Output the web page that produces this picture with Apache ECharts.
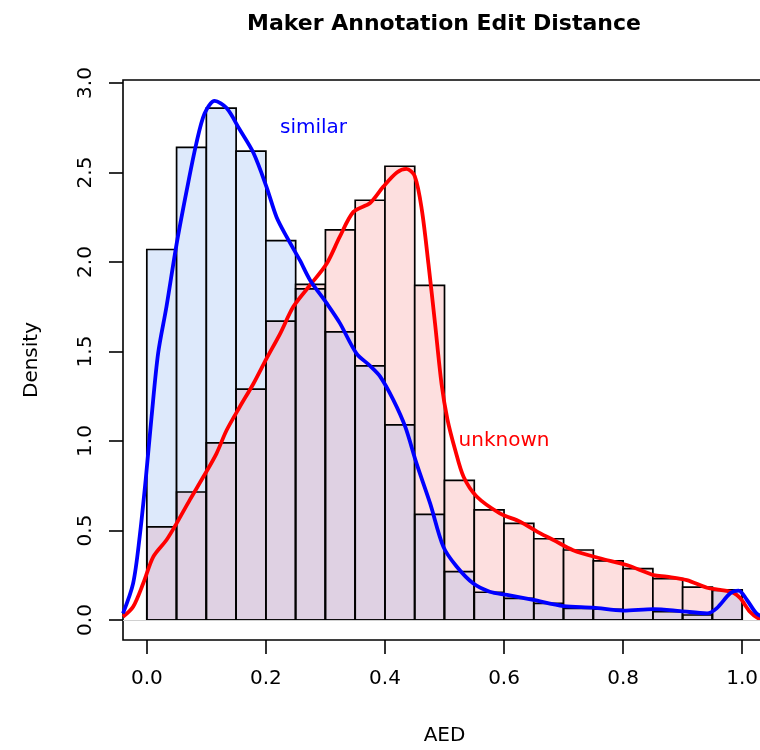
<!DOCTYPE html>
<html>
<head>
<meta charset="utf-8">
<script src="https://cdn.jsdelivr.net/npm/echarts@6/dist/echarts.min.js"></script>
<style>
  html, body { margin: 0; padding: 0; background: #fff; }
  #chart { width: 760px; height: 750px; }
</style>
</head>
<body>
<div id="chart"></div>
<script>
// histogram bins (AED)
const binEdges = [0, 0.05, 0.1, 0.15, 0.2, 0.25, 0.3, 0.35, 0.4, 0.45, 0.5,
  0.55, 0.6, 0.65, 0.7, 0.75, 0.8, 0.85, 0.9, 0.95, 1.0];
const similarHist = [2.07, 2.64, 2.86, 2.62, 2.12, 1.85, 1.61, 1.42, 1.09, 0.59,
  0.27, 0.155, 0.121, 0.093, 0.065, 0.06, 0.056, 0.047, 0.028, 0.168];
const unknownHist = [0.52, 0.715, 0.99, 1.29, 1.67, 1.875, 2.18, 2.345, 2.535, 1.87,
  0.78, 0.615, 0.54, 0.454, 0.391, 0.33, 0.287, 0.231, 0.184, 0.165];

// density curves
const similarX = [-0.04, -0.023, -0.012, -0.002, 0.008, 0.019, 0.033, 0.05, 0.067, 0.083,
  0.097, 0.114, 0.134, 0.156, 0.179, 0.201, 0.218, 0.235, 0.257, 0.274,
  0.302, 0.324, 0.352, 0.375, 0.392, 0.414, 0.434, 0.453, 0.476, 0.498,
  0.52, 0.548, 0.576, 0.605, 0.649, 0.7, 0.75, 0.8, 0.851, 0.896,
  0.941, 0.957, 0.98, 0.994, 1.008, 1.024, 1.04];
const similarY = [0.037, 0.205, 0.465, 0.78, 1.136, 1.49, 1.75, 2.1, 2.4, 2.66,
  2.83, 2.9, 2.86, 2.74, 2.61, 2.42, 2.25, 2.14, 2.01, 1.9,
  1.77, 1.66, 1.49, 1.42, 1.36, 1.23, 1.08, 0.875, 0.65, 0.41,
  0.3, 0.205, 0.158, 0.14, 0.112, 0.078, 0.069, 0.052, 0.061, 0.05,
  0.037, 0.065, 0.149, 0.164, 0.112, 0.037, 0.01];
const unknownX = [-0.04, -0.023, -0.006, 0.011, 0.033, 0.05, 0.072, 0.095, 0.117, 0.134,
  0.156, 0.179, 0.201, 0.224, 0.246, 0.274, 0.302, 0.324, 0.347, 0.375,
  0.397, 0.42, 0.436, 0.45, 0.462, 0.473, 0.484, 0.495, 0.505, 0.518,
  0.532, 0.554, 0.593, 0.627, 0.661, 0.683, 0.716, 0.761, 0.806, 0.851,
  0.873, 0.907, 0.941, 0.963, 0.985, 0.997, 1.013, 1.027, 1.04];
const unknownY = [0.018, 0.074, 0.205, 0.354, 0.447, 0.54, 0.67, 0.8, 0.93, 1.06,
  1.19, 1.32, 1.46, 1.6, 1.75, 1.87, 1.99, 2.14, 2.28, 2.33,
  2.42, 2.5, 2.52, 2.48, 2.29, 1.99, 1.66, 1.32, 1.12, 0.95,
  0.8, 0.69, 0.596, 0.549, 0.484, 0.447, 0.39, 0.345, 0.307, 0.251,
  0.242, 0.223, 0.18, 0.168, 0.152, 0.121, 0.046, 0.01, 0.0];

const xTicks = [0, 0.2, 0.4, 0.6, 0.8, 1.0];
const yTicks = [0, 0.5, 1.0, 1.5, 2.0, 2.5, 3.0];

const FONT = 'DejaVu Sans';
const blueFill = '#dde9fb';
const redFill = '#fddfdf';
const bothFill = '#dfd1e3';

const histData = similarHist.map((b, i) => [binEdges[i], binEdges[i + 1], b, unknownHist[i]]);

function renderBin(params, api) {
  const x0 = api.value(0), x1 = api.value(1);
  const b = api.value(2), r = api.value(3);
  const hi = Math.max(b, r), lo = Math.min(b, r);
  const rect = (h) => {
    const p0 = api.coord([x0, h]);
    const p1 = api.coord([x1, 0]);
    return { x: p0[0], y: p0[1], width: p1[0] - p0[0], height: p1[1] - p0[1] };
  };
  const line = { fill: null, stroke: '#000', lineWidth: 1.7 };
  return {
    type: 'group',
    children: [
      { type: 'rect', shape: rect(hi), style: { fill: b > r ? blueFill : redFill } },
      { type: 'rect', shape: rect(lo), style: { fill: bothFill } },
      { type: 'rect', shape: rect(b), style: line },
      { type: 'rect', shape: rect(r), style: line }
    ]
  };
}

const chart = echarts.init(document.getElementById('chart'), null, { renderer: 'canvas' });

chart.setOption({
  backgroundColor: '#fff',
  animation: false,
  title: {
    text: 'Maker Annotation Edit Distance',
    left: 444,
    top: 13,
    padding: 0,
    textAlign: 'center',
    textStyle: { fontFamily: FONT, fontWeight: 'bold', fontSize: 22, color: '#000' }
  },
  grid: {
    left: 123, top: 80, width: 643, height: 560,
    outerBoundsMode: 'none',
    containLabel: false,
    show: true, borderColor: '#000', borderWidth: 1.6, backgroundColor: 'transparent'
  },
  xAxis: {
    type: 'value',
    min: -0.04, max: 1.04,
    name: 'AED',
    nameLocation: 'middle',
    nameGap: 86,
    nameTextStyle: { fontFamily: FONT, fontSize: 20, color: '#000' },
    axisLine: { show: false, onZero: false },
    splitLine: { show: false },
    axisTick: { show: true, length: 14, customValues: xTicks, lineStyle: { color: '#000', width: 1.6 } },
    axisLabel: {
      customValues: xTicks, margin: 29,
      fontFamily: FONT, fontSize: 20, color: '#000',
      formatter: v => v.toFixed(1)
    }
  },
  yAxis: {
    type: 'value',
    min: -0.1117, max: 3.0168,
    name: 'Density',
    nameLocation: 'middle',
    nameGap: 81,
    nameTextStyle: { fontFamily: FONT, fontSize: 20, color: '#000' },
    axisLine: { show: false, onZero: false },
    splitLine: { show: false },
    axisTick: { show: true, length: 14, customValues: yTicks, lineStyle: { color: '#000', width: 1.6 } },
    axisLabel: {
      customValues: yTicks, margin: 27, rotate: 90,
      fontFamily: FONT, fontSize: 20, color: '#000',
      formatter: v => v.toFixed(1)
    }
  },
  series: [
    {
      type: 'line',
      data: [],
      z: 1,
      markLine: {
        silent: true, symbol: 'none', label: { show: false },
        lineStyle: { color: '#d0d0d0', width: 1, type: 'solid' },
        data: [{ yAxis: 0 }]
      }
    },
    {
      type: 'custom',
      renderItem: renderBin,
      data: histData,
      encode: { x: [0, 1], y: [2, 3] },
      z: 2
    },
    {
      type: 'line',
      name: 'unknown',
      data: unknownX.map((x, i) => [x, unknownY[i]]),
      smooth: 0.3,
      showSymbol: false,
      lineStyle: { color: '#ff0000', width: 3.8 },
      z: 3,
      markPoint: {
        symbol: 'circle', symbolSize: 0,
        label: { show: true, position: 'inside', formatter: 'unknown', color: '#ff0000', fontFamily: FONT, fontSize: 20 },
        data: [{ coord: [0.6, 1.0] }]
      }
    },
    {
      type: 'line',
      name: 'similar',
      data: similarX.map((x, i) => [x, similarY[i]]),
      smooth: 0.3,
      showSymbol: false,
      lineStyle: { color: '#0000ff', width: 3.8 },
      z: 4,
      markPoint: {
        symbol: 'circle', symbolSize: 0,
        label: { show: true, position: 'inside', formatter: 'similar', color: '#0000ff', fontFamily: FONT, fontSize: 20 },
        data: [{ coord: [0.28, 2.75] }]
      }
    }
  ]
});
</script>
</body>
</html>
